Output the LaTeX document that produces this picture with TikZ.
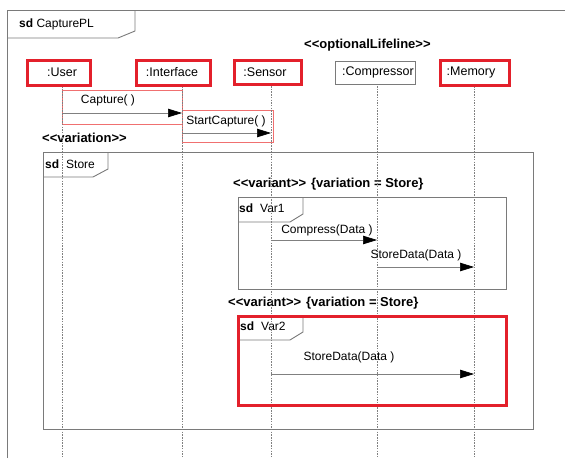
\documentclass[tikz,border=0pt]{standalone}
\usepackage{fontspec}
\setmainfont{Liberation Sans}
\usetikzlibrary{arrows.meta}
\definecolor{hlred}{HTML}{E3202B}
\definecolor{boxred}{HTML}{F07070}
\definecolor{framegray}{HTML}{7A7A7A}
\tikzset{
  frame/.style={draw=framegray, line width=0.9pt},
  hl/.style={draw=hlred, line width=3pt},
  msgbox/.style={draw=boxred, line width=0.8pt},
  life/.style={draw=gray, line width=0.7pt, dash pattern=on 1.5pt off 1.2pt},
  msg/.style={draw=gray, line width=0.7pt, -{Triangle[length=14pt,width=8.5pt,color=black]}},
  lbl/.style={font=\fontsize{12}{14}\selectfont, inner sep=0pt},
  blbl/.style={font=\fontsize{13}{15}\selectfont\bfseries, inner sep=0pt},
  headtxt/.style={font=\fontsize{12.5}{14}\selectfont, inner sep=0pt},
}
\begin{document}
\begin{tikzpicture}[x=1pt,y=-1pt]
\useasboundingbox[fill=white] (0,0) rectangle (565,458);

% outer frame
\draw[frame] (7,458) -- (7,10) -- (565,10);
\draw[frame] (7,38) -- (118,38) -- (135,31) -- (135,10);
\node[lbl, anchor=west] (sdcap) at (19,24) {\textbf{sd} CapturePL};

% lifeline heads
\node[headtxt] (u) at (62,72) {:User};
\node[headtxt] (i) at (172,72) {:Interface};
\node[headtxt] (s) at (265,72) {:Sensor};
\node[headtxt] (c) at (378,72) {:Compressor};
\node[headtxt] (m) at (471,72) {:Memory};
\draw[frame, line width=0.6pt] (335,61) rectangle (415,84);
\node[blbl, anchor=west] (opt) at (304,45) {<{}<optionalLifeline>{}>};

% lifeline coordinates
\coordinate (uT) at (62,86);   \coordinate (uB) at (62,458);
\coordinate (iT) at (182,86);  \coordinate (iB) at (182,458);
\coordinate (sT) at (271,86);  \coordinate (sB) at (271,458);
\coordinate (cT) at (377,86);  \coordinate (cB) at (377,458);
\coordinate (mT) at (474,86);  \coordinate (mB) at (474,458);

% message highlight boxes
\draw[msgbox] (62,90) rectangle (182,124);
\draw[msgbox] (182,110) rectangle (273,142);

% frames: Store
\draw[frame] (43,152) rectangle (533,429);
\draw[frame] (43,177) -- (93,177) -- (108,169) -- (108,152);
\node[lbl, anchor=west] (sdstore) at (45,164) {\textbf{sd}\hspace{7pt}Store};
\node[blbl, anchor=west] (variation) at (42,138) {<{}<variation>{}>};

% Var1
\node[blbl, anchor=west] (v1lbl) at (233,184) {<{}<variant>{}>\hspace{5pt}\{variation = Store\}};
\draw[frame] (238,197) rectangle (506,289);
\draw[frame] (238,222) -- (290,222) -- (303,214) -- (303,197);
\node[lbl, anchor=west] (sdv1) at (239,208) {\textbf{sd}\hspace{7pt}Var1};

% Var2
\node[blbl, anchor=west] (v2lbl) at (228,303) {<{}<variant>{}>\hspace{5pt}\{variation = Store\}};
\draw[frame] (238,340) -- (290,340) -- (303,332) -- (303,316);
\node[lbl, anchor=west] (sdv2) at (240,326) {\textbf{sd}\hspace{7pt}Var2};

% lifelines
\draw[life] (uT) -- (uB);
\draw[life] (iT) -- (iB);
\draw[life] (sT) -- (sB);
\draw[life] (cT) -- (cB);
\draw[life] (mT) -- (mB);

% messages
\draw[msg] (uT |- 0,113) -- (iT |- 0,113);
\node[lbl] (capt) at (108,100) {Capture( )};
\draw[msg] (iT |- 0,133) -- (sT |- 0,133);
\node[lbl] (scapt) at (226,121) {StartCapture( )};

\draw[msg] (sT |- 0,240) -- (cT |- 0,240);
\node[lbl] (comp) at (327,230) {Compress(Data )};
\draw[msg] (cT |- 0,267) -- (mT |- 0,267);
\node[lbl] (sd1) at (416,255) {StoreData(Data )};

\draw[msg] (sT |- 0,374) -- (mT |- 0,374);
\node[lbl] (sd2) at (349,357) {StoreData(Data )};

% red highlights
\draw[hl] (27,60) rectangle (90,85);
\draw[hl] (136,60) rectangle (210,85);
\draw[hl] (234,60) rectangle (301,84);
\draw[hl] (440,60) rectangle (509,85);
\draw[hl] (238,316) rectangle (506,405);
\end{tikzpicture}
\end{document}
